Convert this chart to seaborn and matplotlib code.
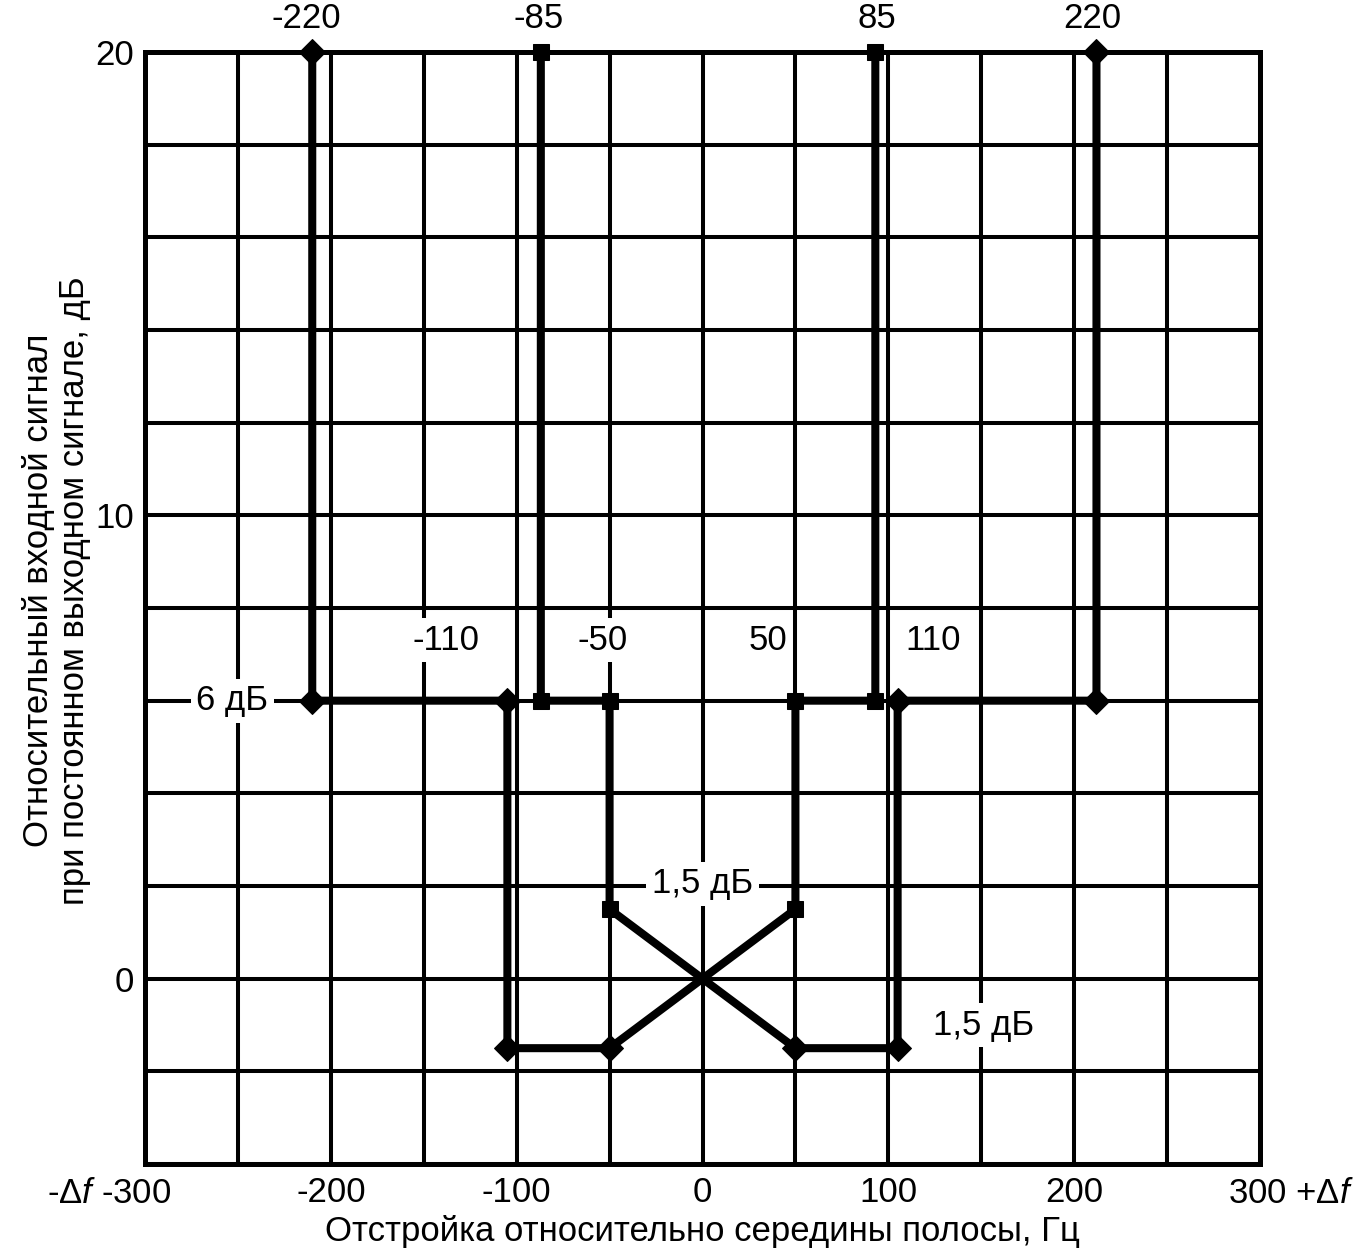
import matplotlib
matplotlib.use("Agg")
import matplotlib.pyplot as plt
import seaborn as sns
import pandas as pd

# ---- data ----
outer_x = [-210, -210, -105, -105, -50, 0, 50, 105, 105, 212, 212]
outer_y = [20, 6, 6, -1.5, -1.5, 0, -1.5, -1.5, 6, 6, 20]
inner_x = [-87, -87, -50, -50, 0, 50, 50, 93, 93]
inner_y = [20, 6, 6, 1.5, 0, 1.5, 6, 6, 20]

top_labels = ["-220", "-85", "85", "220"]
top_label_x = [-213, -88, 94, 210]
mid_labels = ["-110", "-50", "50", "110"]
mid_label_x = [-138, -54, 35, 124]

x_ticks = list(range(-300, 301, 50))
x_ticklabels = {-200: "-200", -100: "-100", 0: "0", 100: "100", 200: "200"}
y_ticks = list(range(-4, 21, 2))
y_ticklabels = {0: "0", 10: "10", 20: "20"}

xlabel = "Отстройка относительно середины полосы, Гц"
ylabel = "Относительный входной сигнал\nпри постоянном выходном сигнале, дБ"

sns.set_theme(style="white")
plt.rcParams["font.family"] = ["Liberation Sans", "DejaVu Sans"]
plt.rcParams["mathtext.fontset"] = "custom"
plt.rcParams["mathtext.rm"] = "Liberation Sans"
plt.rcParams["mathtext.it"] = "Liberation Sans:italic"

FS = 25
fig = plt.figure(figsize=(13.69, 12.52), dpi=100)
ax = fig.add_axes([145 / 1369, 1 - 1164 / 1252, 1115 / 1369, 1112 / 1252])

ax.set_xlim(-300, 300)
ax.set_ylim(-4, 20)
ax.set_xticks(x_ticks)
ax.set_xticklabels([x_ticklabels.get(t, "") for t in x_ticks], fontsize=FS)
ax.set_yticks(y_ticks)
ax.set_yticklabels([y_ticklabels.get(t, "") for t in y_ticks], fontsize=FS)
ax.tick_params(axis="x", length=0, pad=9, colors="black")
ax.tick_params(axis="y", length=0, pad=8, colors="black")
ax.grid(True, color="black", lw=2.9)
ax.set_axisbelow(True)
for s in ax.spines.values():
    s.set_color("black")
    s.set_linewidth(3.6)

df_outer = pd.DataFrame({"x": outer_x, "y": outer_y})
df_inner = pd.DataFrame({"x": inner_x, "y": inner_y})
sns.lineplot(data=df_outer, x="x", y="y", sort=False, estimator=None, color="black",
             lw=5.8, marker="D", ms=13, mec="black", mfc="black",
             markevery=[i for i in range(len(outer_x)) if i != 5],
             clip_on=False, zorder=5, ax=ax)
sns.lineplot(data=df_inner, x="x", y="y", sort=False, estimator=None, color="black",
             lw=5.8, marker="s", ms=12, mec="black", mfc="black",
             markevery=[i for i in range(len(inner_x)) if i != 4],
             clip_on=False, zorder=5, ax=ax)

ax.set_xlabel(xlabel, fontsize=FS, color="black", labelpad=4)
ax.set_ylabel(ylabel, fontsize=FS, color="black", linespacing=1.15)
ax.yaxis.set_label_coords(-0.048, 0.516)

# end labels of the x axis
xtr = ax.get_xaxis_transform()
ax.text(-286, -0.0113, "-Δ$\\mathit{f}$ -300", transform=xtr, ha="right", va="top",
        fontsize=FS, color="black", clip_on=False)
ax.text(283, -0.0113, "300 +Δ$\\mathit{f}$", transform=xtr, ha="left", va="top",
        fontsize=FS, color="black", clip_on=False)

box = dict(facecolor="white", edgecolor="none", pad=4)
for t, x in zip(top_labels, top_label_x):
    ax.text(x, 20.72, t, ha="center", va="center", fontsize=FS, color="black", clip_on=False)
for t, x in zip(mid_labels, mid_label_x):
    ax.text(x, 7.3, t, ha="center", va="center", fontsize=FS, color="black",
            bbox=box, zorder=3)
ax.text(-253, 6, "6 дБ", ha="center", va="center", fontsize=FS, color="black", bbox=box, zorder=3)
ax.text(0, 2.05, "1,5 дБ", ha="center", va="center", fontsize=FS, color="black", bbox=box, zorder=3)
ax.text(151.5, -1.0, "1,5 дБ", ha="center", va="center", fontsize=FS, color="black", bbox=box, zorder=3)

fig.savefig("out.png", dpi=100, facecolor="white")
